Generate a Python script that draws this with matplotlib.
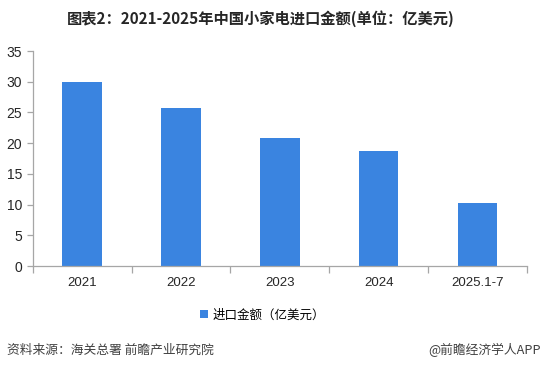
import matplotlib
matplotlib.use("Agg")
import matplotlib.pyplot as plt
import numpy as np

plt.rcParams['font.family'] = ['Liberation Sans', 'Noto Sans CJK SC', 'DejaVu Sans']

categories = ["2021", "2022", "2023", "2024", "2025.1-7"]
values = [30.0, 25.8, 20.9, 18.8, 10.2]
title = "图表2：2021-2025年中国小家电进口金额(单位：亿美元)"
series_name = "进口金额（亿美元）"
source = "资料来源：海关总署 前瞻产业研究院"
credit = "@前瞻经济学人APP"

fig = plt.figure(figsize=(5.46, 3.70), dpi=100)
ax = fig.add_axes([0.060, 0.281, 0.905, 0.581])

x = np.arange(len(categories))
ax.bar(x, values, width=0.4, color="#3a84e0", label=series_name, zorder=2)

ax.set_xlim(-0.5, len(categories) - 0.5)
ax.set_ylim(0, 35)
ax.set_yticks(range(0, 36, 5))
ax.set_xticks(x)
ax.set_xticklabels(categories)
ax.set_xticks(np.arange(len(categories) + 1) - 0.5, minor=True)

axis_gray = "#a6a6a6"
for side in ["top", "right"]:
    ax.spines[side].set_visible(False)
for side in ["left", "bottom"]:
    ax.spines[side].set_color(axis_gray)
    ax.spines[side].set_linewidth(0.9)

ax.tick_params(axis="x", which="major", length=0, pad=8, labelsize=9.5, colors="#262626")
ax.tick_params(axis="x", which="minor", length=5, color=axis_gray, width=0.9)
ax.tick_params(axis="y", length=4, color=axis_gray, width=0.9, labelsize=10, labelcolor="#262626")

fig.text(0.478, 0.951, title, ha="center", va="center", fontsize=11, fontweight="bold",
         color="#262626", family=["Noto Sans CJK SC", "DejaVu Sans"])

fig.legend(loc="center", bbox_to_anchor=(0.48, 0.149), frameon=False,
           handlelength=0.7, handleheight=0.7, handletextpad=0.3,
           prop={"family": ["Noto Sans CJK SC", "DejaVu Sans"], "size": 9})

fig.text(0.012, 0.054, source, ha="left", va="center", fontsize=9.2, color="#404040",
         family=["Noto Sans CJK SC", "DejaVu Sans"])
fig.text(0.99, 0.054, credit, ha="right", va="center", fontsize=9.2, color="#404040",
         family=["Noto Sans CJK SC", "DejaVu Sans"])

fig.savefig("out.png", dpi=100)
